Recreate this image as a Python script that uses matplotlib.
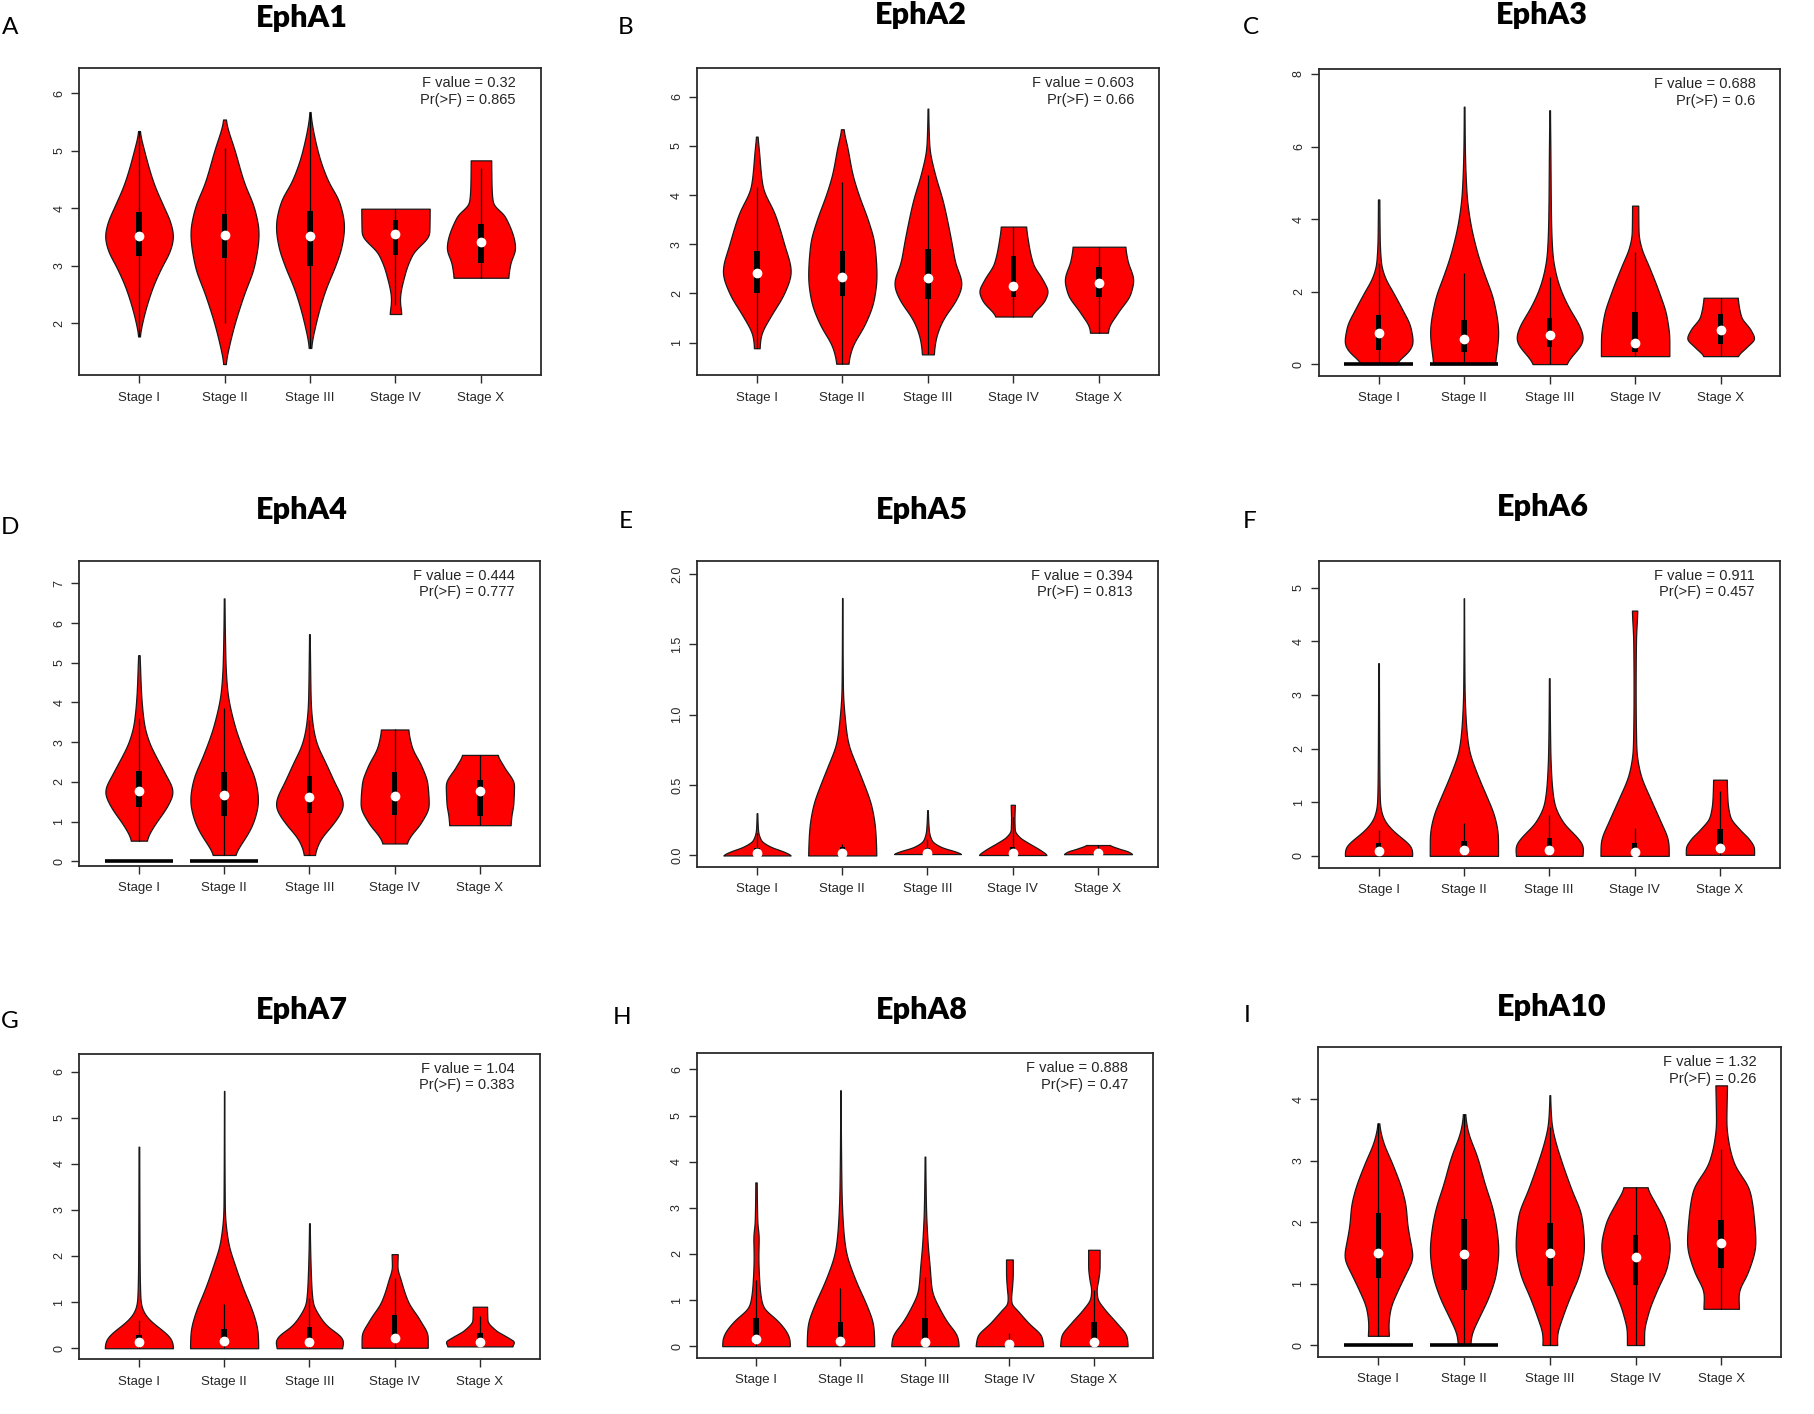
import numpy as np
import matplotlib
matplotlib.use("Agg")
import matplotlib.pyplot as plt
from matplotlib.patches import Rectangle

# ---------------- data ----------------
genes = ["EphA1", "EphA2", "EphA3", "EphA4", "EphA5", "EphA6", "EphA7", "EphA8", "EphA10"]
letters = ["A", "B", "C", "D", "E", "F", "G", "H", "I"]
stages = ["Stage I", "Stage II", "Stage III", "Stage IV", "Stage X"]
f_values = ["0.32", "0.603", "0.688", "0.444", "0.394", "0.911", "1.04", "0.888", "1.32"]
p_values = ["0.865", "0.66", "0.6", "0.777", "0.813", "0.457", "0.383", "0.47", "0.26"]

ylims = [(1.10, 6.43), (0.34, 6.58), (-0.32, 8.13), (-0.11, 7.57), (-0.08, 2.095),
         (-0.22, 5.50), (-0.24, 6.38), (-0.25, 6.35), (-0.19, 4.85)]
yticks = [[2, 3, 4, 5, 6], [1, 2, 3, 4, 5, 6], [0, 2, 4, 6, 8], [0, 1, 2, 3, 4, 5, 6, 7],
          [0.0, 0.5, 1.0, 1.5, 2.0], [0, 1, 2, 3, 4, 5], [0, 1, 2, 3, 4, 5, 6],
          [0, 1, 2, 3, 4, 5, 6], [0, 1, 2, 3, 4]]
ytick_labels = [[str(v) for v in t] for t in yticks]
ytick_labels[4] = ["0.0", "0.5", "1.0", "1.5", "2.0"]

# violin outlines: (y knots, relative half-width knots) per stage, bottom -> top
EPHA1_SHAPE = [
    ([1.77, 2.0, 2.58, 3.0, 3.25, 3.51, 3.75, 4.0, 4.43, 5.0, 5.34], [0.02, 0.09, 0.37, 0.68, 0.9, 1.0, 0.92, 0.74, 0.43, 0.15, 0.02]),
    ([1.29, 1.6, 2.0, 2.52, 3.0, 3.57, 4.0, 4.43, 5.0, 5.54], [0.03, 0.13, 0.30, 0.58, 0.87, 1.0, 0.87, 0.58, 0.30, 0.03]),
    ([1.57, 2.0, 2.58, 3.0, 3.35, 3.68, 4.14, 4.43, 5.0, 5.67], [0.03, 0.17, 0.45, 0.74, 0.93, 1.0, 0.84, 0.56, 0.22, 0.01]),
    ([2.16, 2.4, 2.87, 3.2, 3.57, 3.99], [0.17, 0.13, 0.28, 0.5, 0.99, 1.0]),
    ([2.79, 3.04, 3.3, 3.86, 4.09, 4.38, 4.83], [0.8, 0.86, 1.0, 0.7, 0.35, 0.31, 0.30]),
]
EPHA2_SHAPE = [
    ([0.885, 1.12, 1.53, 2.0, 2.44, 3.0, 3.63, 4.17, 5.0, 5.19], [0.08, 0.11, 0.4, 0.8, 1.0, 0.8, 0.52, 0.17, 0.05, 0.02]),
    ([0.57, 0.92, 1.33, 1.87, 2.34, 3.0, 3.49, 4.0, 4.44, 5.0, 5.34], [0.17, 0.29, 0.63, 0.92, 1.0, 0.94, 0.75, 0.48, 0.29, 0.14, 0.03]),
    ([0.76, 1.05, 1.46, 1.87, 2.2, 2.61, 3.0, 3.36, 3.9, 4.44, 5.0, 5.76], [0.17, 0.22, 0.43, 0.83, 1.0, 0.8, 0.7, 0.6, 0.43, 0.2, 0.04, 0.01]),
    ([1.53, 1.87, 2.04, 2.27, 2.61, 3.09, 3.36], [0.52, 0.92, 1.0, 0.86, 0.57, 0.42, 0.37]),
    ([1.2, 1.29, 1.6, 2.0, 2.27, 2.68, 2.95], [0.26, 0.28, 0.54, 0.92, 1.0, 0.83, 0.77]),
]
EPHA3_SHAPE = [
    ([0.0, 0.06, 0.29, 0.57, 1.03, 1.49, 2.0, 2.4, 2.78, 3.5, 4.54], [0.5, 0.53, 0.82, 1.0, 0.93, 0.7, 0.41, 0.18, 0.07, 0.03, 0.02]),
    ([0.0, 0.29, 0.85, 1.79, 2.4, 3.05, 4.0, 4.7, 6.0, 7.1], [0.9, 0.94, 1.0, 0.85, 0.62, 0.39, 0.16, 0.07, 0.02, 0.01]),
    ([0.0, 0.29, 0.66, 1.03, 1.49, 2.0, 2.4, 3.05, 4.0, 6.0, 7.0], [0.45, 0.71, 1.0, 0.89, 0.6, 0.34, 0.2, 0.08, 0.04, 0.02, 0.01]),
    ([0.22, 0.67, 1.31, 2.0, 2.7, 3.24, 3.6, 4.37], [1.0, 1.0, 0.92, 0.69, 0.4, 0.17, 0.1, 0.09]),
    ([0.22, 0.48, 0.71, 0.94, 1.31, 1.83], [0.5, 0.77, 0.98, 0.88, 0.6, 0.5]),
]
EPHA4_SHAPE = [
    ([0.52, 0.62, 0.96, 1.37, 1.75, 2.22, 2.64, 3.0, 3.47, 4.31, 5.0, 5.19], [0.22, 0.26, 0.49, 0.82, 1.0, 0.76, 0.5, 0.3, 0.15, 0.06, 0.03, 0.02]),
    ([0.16, 0.54, 0.96, 1.54, 2.05, 2.64, 3.47, 4.31, 5.0, 6.62], [0.3, 0.58, 0.85, 1.0, 0.91, 0.63, 0.29, 0.09, 0.04, 0.01]),
    ([0.16, 0.54, 0.96, 1.42, 2.05, 2.47, 3.0, 3.47, 4.0, 5.0, 5.72], [0.15, 0.31, 0.71, 1.0, 0.7, 0.48, 0.2, 0.09, 0.04, 0.02, 0.01]),
    ([0.45, 0.62, 0.96, 1.42, 1.96, 2.39, 2.89, 3.32], [0.35, 0.45, 0.76, 1.0, 0.96, 0.79, 0.5, 0.4]),
    ([0.91, 1.12, 1.46, 1.92, 2.39, 2.68], [0.9, 0.92, 0.98, 1.0, 0.7, 0.52]),
]
EPHA5_SHAPE = [
    ([0.0, 0.026, 0.062, 0.109, 0.18, 0.30], [1.0, 0.8, 0.4, 0.12, 0.03, 0.01]),
    ([0.0, 0.18, 0.35, 0.51, 0.65, 0.80, 0.94, 1.18, 1.83], [1.0, 0.97, 0.86, 0.63, 0.4, 0.17, 0.09, 0.02, 0.005]),
    ([0.01, 0.026, 0.06, 0.109, 0.18, 0.322], [1.0, 0.85, 0.4, 0.12, 0.04, 0.01]),
    ([0.003, 0.04, 0.09, 0.13, 0.18, 0.26, 0.36], [1.0, 0.8, 0.45, 0.2, 0.06, 0.05, 0.06]),
    ([0.009, 0.026, 0.05, 0.074], [1.0, 0.9, 0.6, 0.35]),
]
EPHA6_SHAPE = [
    ([0.0, 0.14, 0.30, 0.48, 0.73, 1.0, 1.85, 3.59], [0.98, 1.0, 0.75, 0.4, 0.12, 0.04, 0.02, 0.01]),
    ([0.0, 0.36, 0.73, 1.1, 1.54, 2.0, 2.47, 3.09, 4.8], [1.0, 1.0, 0.9, 0.67, 0.38, 0.14, 0.06, 0.02, 0.005]),
    ([0.0, 0.17, 0.36, 0.61, 1.0, 1.48, 2.0, 3.31], [0.97, 1.0, 0.8, 0.42, 0.14, 0.06, 0.03, 0.01]),
    ([0.0, 0.24, 0.61, 1.1, 1.54, 2.0, 3.09, 4.02, 4.57], [1.0, 1.0, 0.78, 0.44, 0.16, 0.05, 0.03, 0.04, 0.08]),
    ([0.02, 0.14, 0.30, 0.48, 0.73, 1.04, 1.42], [1.0, 1.0, 0.87, 0.6, 0.3, 0.22, 0.2]),
]
EPHA7_SHAPE = [
    ([0.0, 0.14, 0.33, 0.54, 0.76, 1.0, 1.99, 4.37], [1.0, 1.0, 0.8, 0.42, 0.15, 0.05, 0.02, 0.01]),
    ([0.0, 0.33, 0.76, 1.27, 1.84, 2.28, 3.0, 5.58], [1.0, 0.99, 0.85, 0.57, 0.3, 0.12, 0.02, 0.005]),
    ([0.0, 0.14, 0.25, 0.47, 0.69, 1.0, 1.48, 2.71], [0.95, 1.0, 0.93, 0.54, 0.3, 0.1, 0.05, 0.01]),
    ([0.01, 0.25, 0.61, 1.0, 1.48, 1.77, 2.04], [0.97, 0.97, 0.74, 0.4, 0.18, 0.08, 0.09]),
    ([0.04, 0.14, 0.22, 0.4, 0.61, 0.90], [0.95, 1.0, 0.85, 0.45, 0.22, 0.21]),
]
EPHA8_SHAPE = [
    ([0.0, 0.14, 0.28, 0.57, 0.86, 1.36, 1.94, 2.38, 2.66, 3.55], [1.0, 1.0, 0.93, 0.62, 0.2, 0.1, 0.07, 0.08, 0.04, 0.02]),
    ([0.0, 0.43, 0.86, 1.44, 2.09, 2.66, 3.39, 5.55], [1.0, 0.98, 0.79, 0.44, 0.15, 0.07, 0.03, 0.005]),
    ([0.0, 0.21, 0.50, 0.79, 1.22, 1.73, 2.23, 3.03, 4.11], [1.0, 0.97, 0.68, 0.45, 0.2, 0.14, 0.08, 0.03, 0.01]),
    ([0.0, 0.21, 0.5, 0.79, 0.93, 1.05, 1.22, 1.58, 1.88], [1.0, 0.95, 0.57, 0.22, 0.06, 0.05, 0.07, 0.1, 0.1]),
    ([0.0, 0.21, 0.5, 0.79, 1.05, 1.22, 1.44, 1.73, 2.09], [1.0, 0.97, 0.68, 0.33, 0.1, 0.08, 0.13, 0.17, 0.17]),
]
EPHA10_SHAPE = [
    ([0.15, 0.30, 0.57, 0.90, 1.17, 1.44, 1.71, 1.98, 2.25, 2.52, 2.96, 3.34, 3.61], [0.31, 0.29, 0.34, 0.57, 0.8, 1.0, 0.92, 0.84, 0.8, 0.69, 0.4, 0.12, 0.02]),
    ([0.0, 0.14, 0.41, 0.79, 1.17, 1.55, 1.87, 2.2, 2.63, 3.07, 3.5, 3.76], [0.18, 0.2, 0.4, 0.72, 0.93, 1.0, 0.95, 0.84, 0.6, 0.38, 0.1, 0.03]),
    ([0.0, 0.14, 0.41, 0.79, 1.17, 1.6, 2.09, 2.52, 2.96, 3.34, 3.61, 4.07], [0.22, 0.2, 0.34, 0.59, 0.87, 1.0, 0.93, 0.64, 0.36, 0.15, 0.05, 0.01]),
    ([0.0, 0.19, 0.52, 0.9, 1.28, 1.6, 1.98, 2.31, 2.57], [0.25, 0.25, 0.37, 0.63, 0.92, 1.0, 0.87, 0.58, 0.34]),
    ([0.59, 0.84, 1.17, 1.66, 2.09, 2.52, 2.96, 3.34, 3.61, 3.99, 4.23], [0.52, 0.5, 0.77, 1.0, 0.95, 0.83, 0.37, 0.2, 0.15, 0.16, 0.17]),
]

# box stats per stage: [lower whisker, Q1, median, Q3, upper whisker]
EPHA1_STATS = [[1.77, 3.17, 3.52, 3.94, 5.34], [2.0, 3.13, 3.53, 3.90, 5.04], [1.57, 3.0, 3.52, 3.95, 5.67],
               [2.32, 3.19, 3.55, 3.80, 3.99], [2.79, 3.04, 3.42, 3.72, 4.70]]
EPHA2_STATS = [[0.885, 2.0, 2.42, 2.87, 4.17], [0.57, 1.95, 2.34, 2.87, 4.27], [0.76, 1.89, 2.31, 2.90, 4.4],
               [1.53, 1.93, 2.15, 2.76, 3.36], [1.2, 1.93, 2.22, 2.54, 2.95]]
EPHA3_STATS = [[0.0, 0.39, 0.85, 1.35, 2.78], [0.0, 0.34, 0.70, 1.21, 2.52], [0.0, 0.48, 0.80, 1.26, 2.4],
               [0.22, 0.34, 0.57, 1.44, 3.1], [0.22, 0.55, 0.94, 1.38, 1.83]]
EPHA4_STATS = [[0.52, 1.36, 1.78, 2.27, 3.6], [0.16, 1.15, 1.67, 2.24, 3.85], [0.16, 1.22, 1.63, 2.15, 3.56],
               [0.45, 1.16, 1.64, 2.26, 3.32], [0.91, 1.14, 1.77, 2.05, 2.68]]
EPHA5_STATS = [[0.0, 0.0, 0.014, 0.05, 0.16], [0.0, 0.0, 0.02, 0.06, 0.08], [0.01, 0.01, 0.02, 0.05, 0.12],
               [0.003, 0.003, 0.02, 0.06, 0.27], [0.009, 0.01, 0.02, 0.04, 0.074]]
EPHA6_STATS = [[0.0, 0.08, 0.10, 0.24, 0.48], [0.0, 0.05, 0.11, 0.27, 0.61], [0.0, 0.05, 0.11, 0.33, 0.76],
               [0.0, 0.02, 0.08, 0.24, 0.52], [0.02, 0.10, 0.14, 0.50, 1.2]]
EPHA7_STATS = [[0.0, 0.07, 0.14, 0.29, 0.61], [0.0, 0.07, 0.16, 0.41, 0.95], [0.0, 0.07, 0.14, 0.47, 1.08],
               [0.01, 0.18, 0.22, 0.72, 1.52], [0.04, 0.07, 0.14, 0.32, 0.69]]
EPHA8_STATS = [[0.0, 0.05, 0.15, 0.60, 1.44], [0.0, 0.05, 0.12, 0.53, 1.26], [0.0, 0.06, 0.10, 0.60, 1.49],
               [0.0, 0.0, 0.04, 0.05, 0.28], [0.0, 0.06, 0.10, 0.52, 1.22]]
EPHA10_STATS = [[0.15, 1.10, 1.50, 2.15, 3.61], [0.0, 0.90, 1.49, 2.06, 3.76], [0.0, 0.96, 1.50, 1.98, 3.55],
                [0.0, 0.98, 1.44, 1.79, 2.57], [0.59, 1.25, 1.67, 2.04, 3.2]]

# stages that show an extra black bar at zero
zero_bars = [[], [], [0, 1], [0, 1], [], [], [], [], [0, 1]]

shapes = [EPHA1_SHAPE, EPHA2_SHAPE, EPHA3_SHAPE, EPHA4_SHAPE, EPHA5_SHAPE,
          EPHA6_SHAPE, EPHA7_SHAPE, EPHA8_SHAPE, EPHA10_SHAPE]
stats = [EPHA1_STATS, EPHA2_STATS, EPHA3_STATS, EPHA4_STATS, EPHA5_STATS,
         EPHA6_STATS, EPHA7_STATS, EPHA8_STATS, EPHA10_STATS]


# ---------------- helpers ----------------
def pchip(xk, yk, x):
    xk = np.asarray(xk, float)
    yk = np.asarray(yk, float)
    h = np.diff(xk)
    d = np.diff(yk) / h
    n = len(xk)
    m = np.zeros(n)
    for k in range(1, n - 1):
        if d[k - 1] * d[k] <= 0:
            m[k] = 0.0
        else:
            w1 = 2 * h[k] + h[k - 1]
            w2 = h[k] + 2 * h[k - 1]
            m[k] = (w1 + w2) / (w1 / d[k - 1] + w2 / d[k])
    m[0] = d[0] * 0.5
    m[-1] = d[-1] * 0.5
    idx = np.clip(np.searchsorted(xk, x) - 1, 0, n - 2)
    t = (x - xk[idx]) / h[idx]
    h00 = 2 * t**3 - 3 * t**2 + 1
    h10 = t**3 - 2 * t**2 + t
    h01 = -2 * t**3 + 3 * t**2
    h11 = t**3 - t**2
    return h00 * yk[idx] + h10 * h[idx] * m[idx] + h01 * yk[idx + 1] + h11 * h[idx] * m[idx + 1]


def outline(ys, ws, n=500, rel_sigma=0.022):
    yy = np.linspace(ys[0], ys[-1], n)
    w = pchip(ys, ws, yy)
    sig = rel_sigma * n
    half = int(4 * sig) + 1
    kx = np.arange(-half, half + 1)
    ker = np.exp(-0.5 * (kx / sig) ** 2)
    ker /= ker.sum()
    wp = np.pad(w, half, mode="edge")
    ws_s = np.convolve(wp, ker, mode="valid")
    return yy, np.clip(ws_s, 0.0, 1.05)


# ---------------- layout (pixels in a 1815 x 1414 canvas) ----------------
W, H = 1815.0, 1414.0
boxes = [
    (79.2, 540.8, 68.3, 375.0), (696.9, 1158.9, 68.3, 375.0), (1318.8, 1780.5, 69.3, 375.7),
    (79.2, 539.6, 560.7, 865.7), (697.3, 1157.7, 560.7, 866.7), (1318.8, 1779.7, 560.7, 867.7),
    (79.2, 539.6, 1054.0, 1359.3), (696.9, 1153.0, 1053.3, 1357.7), (1318.4, 1781.2, 1047.3, 1356.7),
]
title_pos = [(302, 18), (921, 15), (1542, 15), (302, 510), (922, 510), (1543, 507),
             (302, 1010), (922, 1010), (1552, 1007)]
letter_pos = [(10, 27), (626, 27), (1251, 27), (10, 528), (626, 522), (1250, 522),
              (10, 1022), (622, 1018), (1247, 1015)]

fig = plt.figure(figsize=(W / 100, H / 100), dpi=100)
fig.patch.set_facecolor("white")

AX_COLOR = "#2b2b2b"
TXT_COLOR = "#262626"

for i in range(9):
    l, r, t, b = boxes[i]
    ax = fig.add_axes([l / W, 1 - b / H, (r - l) / W, (b - t) / H])
    ax.set_xlim(0.3, 5.7)
    ax.set_ylim(*ylims[i])
    for j in range(5):
        c = j + 1
        ys, ws = shapes[i][j]
        yy, ww = outline(ys, ws)
        ww = ww * 0.4
        ax.fill_betweenx(yy, c - ww, c + ww, facecolor="#ff0000", edgecolor="#1a1a1a",
                         linewidth=0.9, zorder=2)
        if j in zero_bars[i]:
            ax.hlines(0.0, c - 0.4, c + 0.4, color="black", linewidth=2.6, zorder=3)
        lo, q1, med, q3, hi = stats[i][j]
        ax.vlines(c, lo, hi, color="black", linewidth=0.9, zorder=3)
        ax.add_patch(Rectangle((c - 0.032, q1), 0.064, q3 - q1, facecolor="black",
                               edgecolor="none", zorder=4))
        ax.plot([c], [med], marker="o", markersize=6, markerfacecolor="white",
                markeredgecolor="white", linestyle="none", zorder=5)

    ax.set_xticks(range(1, 6))
    ax.set_xticklabels(stages, fontsize=9.5, family="Liberation Sans", color=TXT_COLOR)
    ax.set_yticks(yticks[i])
    ax.set_yticklabels(ytick_labels[i], fontsize=9, family="Liberation Sans", color=TXT_COLOR,
                       rotation=90, va="center")
    ax.tick_params(axis="both", direction="out", length=6, width=1.0, color=AX_COLOR)
    ax.tick_params(axis="x", pad=6)
    ax.tick_params(axis="y", pad=4)
    for sp in ax.spines.values():
        sp.set_color(AX_COLOR)
        sp.set_linewidth(1.3)

    ax.text(0.946, 0.951, "F value = " + f_values[i], transform=ax.transAxes, ha="right",
            va="center", fontsize=10.5, family="Liberation Sans", color=TXT_COLOR)
    ax.text(0.946, 0.897, "Pr(>F) = " + p_values[i], transform=ax.transAxes, ha="right",
            va="center", fontsize=10.5, family="Liberation Sans", color=TXT_COLOR)

    tx, ty = title_pos[i]
    fig.text(tx / W, 1 - ty / H, genes[i], ha="center", va="center", fontsize=22,
             fontweight="heavy", family="Lato", color="black")
    lx, ly = letter_pos[i]
    fig.text(lx / W, 1 - ly / H, letters[i], ha="center", va="center", fontsize=17.5,
             family="Lato", color="black")

fig.savefig("out.png", dpi=100, facecolor="white")
